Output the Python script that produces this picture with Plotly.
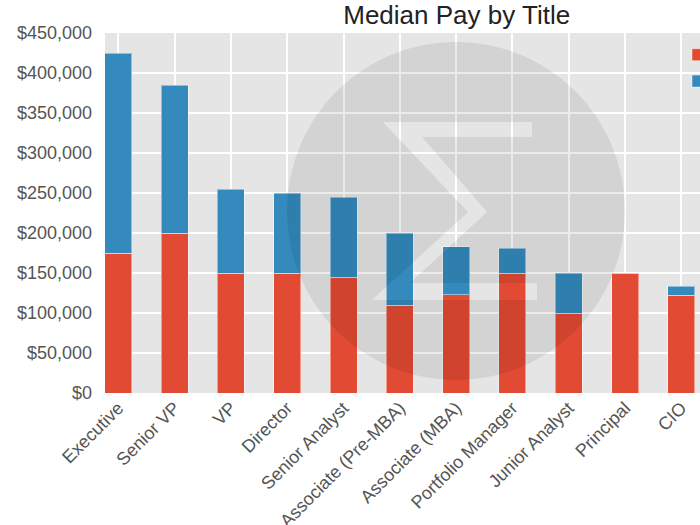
import numpy as np
import plotly.graph_objects as go

# ---- data ----
titles = ["Executive", "Senior VP", "VP", "Director", "Senior Analyst",
          "Associate (Pre-MBA)", "Associate (MBA)", "Portfolio Manager",
          "Junior Analyst", "Principal", "CIO"]
base_pay = [175000, 200000, 150000, 150000, 145000, 110000, 123000, 150000,
            100000, 150000, 122500]
bonus_pay = [250000, 185000, 105000, 100000, 100000, 90000, 60000, 31000,
             50000, 0, 11000]
series_names = ["Base Salary", "Bonus"]
y_ticks = [0, 50000, 100000, 150000, 200000, 250000, 300000, 350000, 400000, 450000]
y_tick_text = ["$" + format(v, ",") for v in y_ticks]

RED = "#E24A33"
BLUE = "#348ABD"
FONT = "Liberation Sans, Arial, Helvetica, sans-serif"

W, H = 700, 525
L, R, T, B = 105, 700, 33, 393   # plot area in px
pw, ph = R - L, B - T

fig = go.Figure()
fig.add_trace(go.Bar(x=titles, y=base_pay, name=series_names[0], width=0.48,
                     marker=dict(color=RED, line=dict(color="rgba(255,255,255,0.45)", width=1))))
fig.add_trace(go.Bar(x=titles, y=bonus_pay, name=series_names[1], width=0.48,
                     marker=dict(color=BLUE, line=dict(color="rgba(255,255,255,0.45)", width=1))))

# ---- watermark: dark translucent disc with a sigma cut out ----
def to_paper(px, py):
    return (px - L) / pw, (B - py) / ph

cx, cy, r = 456, 211, 169
ang = np.linspace(0, 2 * np.pi, 181)[:-1]
circ = [to_paper(cx + r * np.cos(a), cy - r * np.sin(a)) for a in ang]
sigma_px = [(383, 122), (468, 212), (372, 300), (537, 300), (537, 283), (410, 283),
            (487, 212), (422, 137), (532, 137), (532, 122)]
sig = [to_paper(*p) for p in sigma_px]

def sub(points):
    s = "M%.5f,%.5f" % points[0]
    for p in points[1:]:
        s += " L%.5f,%.5f" % p
    return s + " Z"

path = sub(circ) + " " + sub(sig)
fig.add_shape(type="path", path=path, xref="paper", yref="paper",
              fillcolor="rgba(0,0,0,0.08)", line=dict(width=0), layer="above")

fig.update_layout(
    width=W, height=H,
    barmode="stack",
    paper_bgcolor="white",
    plot_bgcolor="#E5E5E5",
    margin=dict(l=L, r=W - R, t=T, b=H - B, autoexpand=False),
    font=dict(family=FONT, size=18, color="#555555"),
    title=dict(text="Median Pay by Title", xref="paper", x=(456.7 - L) / pw,
               xanchor="center", yref="container", y=1 - 15 / H, yanchor="middle",
               font=dict(family=FONT, size=26, color="#222222")),
    showlegend=True,
    legend=dict(x=(678 - L) / pw, xanchor="left", y=1 - (36.5 - T) / ph, yanchor="top",
                traceorder="normal",
                bgcolor="rgba(0,0,0,0)", font=dict(size=18, color="#222222")),
    xaxis=dict(range=[-0.236, 10.33], tickangle=-45, showgrid=True,
               gridcolor="white", gridwidth=1.5, ticks="", zeroline=False,
               showline=False, tickfont=dict(size=18, color="#555555")),
    yaxis=dict(range=[0, 450000], tickvals=y_ticks, ticktext=y_tick_text,
               showgrid=True, gridcolor="white", gridwidth=1.5, ticks="",
               zeroline=False, showline=False, ticklabelstandoff=12,
               tickfont=dict(size=18, color="#555555")),
)

fig.write_html("out.html", config={"displayModeBar": False},
               post_script="document.body.style.margin='0px';document.body.style.overflow='hidden';")
